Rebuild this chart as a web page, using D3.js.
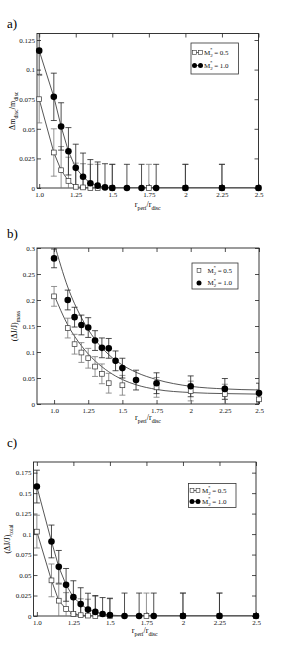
<!DOCTYPE html>
<html>
<head>
<meta charset="utf-8">
<script src="https://cdn.jsdelivr.net/npm/d3@7"></script>
<style>
  body { margin: 0; background: #fff; }
  svg { display: block; }
</style>
</head>
<body>
<div id="chart"></div>
<script>
var xTicks = [1.0, 1.25, 1.5, 1.75, 2, 2.25, 2.5];
var xTickLabels = ["1.0", "1.25", "1.5", "1.75", "2", "2.25", "2.5"];
var legendLabels = ["0.5", "1.0"];

// a) disc mass loss
var aYTicks = [0, 0.025, 0.05, 0.075, 0.1, 0.125];
var aYTickLabels = ["0", "0.025", "0.05", "0.075", "0.1", "0.125"];
var aXOpen = [1.0, 1.1, 1.15, 1.2, 1.25, 1.3, 1.35, 1.4, 1.5, 1.75, 2, 2.25, 2.5];
var aYOpen = [0.075, 0.03, 0.015, 0.006, 0.001, 0.0005, 0, 0, 0, 0, 0, 0, 0];
var aErrOpen = [0.02, 0.02, 0.02, 0.02, 0.02, 0.02, 0.02, 0.02, 0.02, 0.02, 0.02, 0.02, 0];
var aXFilled = [1.0, 1.1, 1.15, 1.2, 1.25, 1.3, 1.35, 1.4, 1.45, 1.5, 1.6, 1.7, 1.8, 2, 2.25, 2.5];
var aYFilled = [0.116, 0.077, 0.052, 0.031, 0.017, 0.0095, 0.004, 0.002, 0.0005, 0, 0, 0, 0, 0, 0, 0];
var aErrFilled = [0.02, 0.02, 0.02, 0.02, 0.02, 0.02, 0.02, 0.02, 0.02, 0.02, 0.02, 0.02, 0.02, 0.02, 0.02, 0];

// b) angular momentum loss with fitted curves
var bYTicks = [0, 0.05, 0.1, 0.15, 0.2, 0.25, 0.3];
var bYTickLabels = ["0", "0.05", "0.1", "0.15", "0.2", "0.25", "0.3"];
var bXOpen = [1.0, 1.1, 1.15, 1.2, 1.25, 1.3, 1.35, 1.4, 1.5, 1.75, 2, 2.25, 2.5];
var bYOpen = [0.207, 0.146, 0.115, 0.099, 0.088, 0.072, 0.058, 0.04, 0.036, 0.032, 0.025, 0.019, 0.009];
var bErrOpen = [0.019, 0.019, 0.019, 0.019, 0.019, 0.019, 0.019, 0.019, 0.019, 0.019, 0.019, 0.019, 0.019];
var bXFilled = [1.0, 1.1, 1.15, 1.2, 1.25, 1.3, 1.35, 1.4, 1.45, 1.5, 1.6, 1.75, 2, 2.25, 2.5];
var bYFilled = [0.28, 0.2, 0.167, 0.152, 0.147, 0.122, 0.108, 0.107, 0.083, 0.069, 0.046, 0.04, 0.034, 0.029, 0.021];
var bErrFilled = [0.018, 0.019, 0.019, 0.019, 0.019, 0.019, 0.019, 0.019, 0.019, 0.019, 0.019, 0.02, 0.02, 0.02, 0.019];
var bFitX = [1.0, 1.1, 1.2, 1.3, 1.4, 1.5, 1.6, 1.75, 2, 2.25, 2.5];
var bFitFilled = [0.31, 0.225, 0.166, 0.124, 0.095, 0.075, 0.061, 0.047, 0.034, 0.029, 0.027];
var bFitOpen = [0.21, 0.152, 0.112, 0.083, 0.062, 0.047, 0.037, 0.028, 0.022, 0.02, 0.019];

// c) total angular momentum loss
var cYTicks = [0, 0.025, 0.05, 0.075, 0.1, 0.125, 0.15, 0.175];
var cYTickLabels = ["0", "0.025", "0.05", "0.075", "0.1", "0.125", "0.15", "0.175"];
var cXOpen = [1.0, 1.1, 1.15, 1.2, 1.25, 1.3, 1.35, 1.4, 1.5, 1.75, 2, 2.25, 2.5];
var cYOpen = [0.103, 0.0435, 0.0187, 0.0085, 0.0025, 0.001, 0.0005, 0, 0, 0, 0, 0, 0];
var cErrOpen = [0.02, 0.02, 0.02, 0.02, 0.02, 0.02, 0.02, 0.024, 0.022, 0.028, 0.028, 0.028, 0];
var cXFilled = [1.0, 1.1, 1.15, 1.2, 1.25, 1.3, 1.35, 1.4, 1.45, 1.5, 1.6, 1.7, 1.8, 2, 2.25, 2.5];
var cYFilled = [0.158, 0.091, 0.06, 0.038, 0.023, 0.0145, 0.0078, 0.005, 0.0025, 0.0012, 0, 0, 0, 0, 0, 0];
var cErrFilled = [0.02, 0.02, 0.02, 0.02, 0.02, 0.02, 0.02, 0.02, 0.02, 0.02, 0.028, 0.028, 0.028, 0.028, 0.028, 0];

var font = "'Liberation Serif', 'DejaVu Serif', serif";
var lineColor = "#444";

var svg = d3.select("#chart").append("svg")
  .attr("width", 292)
  .attr("height", 650);

function zip(xs, ys, es) {
  return xs.map(function(d, i) { return { x: d, y: ys[i], e: es ? es[i] : 0 }; });
}

function subText(sel, parts) {
  // parts: [text, "sub" or null]
  var prev = null;
  parts.forEach(function(p) {
    var t = sel.append("tspan").text(p[0]);
    var shift = 0;
    if (p[1] == "sub") { t.attr("font-size", "0.72em"); shift = 2.5; }
    if (prev == "sub" && p[1] != "sub") shift = -2.5;
    if (shift) t.attr("dy", shift);
    prev = p[1];
  });
}

function legendLabel(sel, value) {
  sel.append("tspan").text("M");
  sel.append("tspan").attr("font-size", 5).attr("dy", 2).text("2");
  sel.append("tspan").attr("font-size", 5).attr("dx", -2.8).attr("dy", -5.5).text("*");
  sel.append("tspan").attr("dy", 3.5).text(" = " + value);
}

function drawPanel(p) {
  var g = svg.append("g");
  var x = d3.scaleLinear().domain(p.xDomain).range([p.left, p.right]);
  var y = d3.scaleLinear().domain(p.yDomain).range([p.bottom, p.top]);

  var clipId = "clip-" + p.name;
  svg.append("clipPath").attr("id", clipId)
    .append("rect")
    .attr("x", p.left).attr("y", p.top)
    .attr("width", p.right - p.left).attr("height", p.bottom - p.top);

  // axes, ticks pointing inward
  var bottom = d3.axisBottom(x).tickValues(xTicks)
    .tickFormat(function(d, i) { return xTickLabels[i]; })
    .tickSizeInner(-4).tickSizeOuter(0).tickPadding(4);
  var top = d3.axisTop(x).tickValues(xTicks).tickFormat("")
    .tickSizeInner(-4).tickSizeOuter(0);
  var left = d3.axisLeft(y).tickValues(p.yTicks)
    .tickFormat(function(d, i) { return p.yTickLabels[i]; })
    .tickSizeInner(-4).tickSizeOuter(0).tickPadding(2);
  var right = d3.axisRight(y).tickValues(p.yTicks).tickFormat("")
    .tickSizeInner(-4).tickSizeOuter(0);

  g.append("g").attr("transform", "translate(0," + p.bottom + ")").call(bottom);
  g.append("g").attr("transform", "translate(0," + p.top + ")").call(top);
  g.append("g").attr("transform", "translate(" + p.left + ",0)").call(left);
  g.append("g").attr("transform", "translate(" + p.right + ",0)").call(right);
  g.selectAll(".domain").remove();
  g.selectAll(".tick line").attr("stroke", "#222").attr("stroke-width", 0.8);
  g.selectAll(".tick text").attr("font-family", font).attr("font-size", 7).attr("fill", "#111");

  g.append("rect")
    .attr("x", p.left).attr("y", p.top)
    .attr("width", p.right - p.left).attr("height", p.bottom - p.top)
    .attr("fill", "none").attr("stroke", "#222").attr("stroke-width", 0.9);

  var plot = g.append("g").attr("clip-path", "url(#" + clipId + ")");

  // fitted curves
  if (p.fit) {
    var curve = d3.line()
      .x(function(d) { return x(d.x); })
      .y(function(d) { return y(d.y); })
      .curve(d3.curveMonotoneX);
    p.fit.forEach(function(f) {
      plot.append("path").datum(f)
        .attr("d", curve)
        .attr("fill", "none").attr("stroke", lineColor).attr("stroke-width", 0.9);
    });
  }

  // connecting lines
  var line = d3.line()
    .x(function(d) { return x(d.x); })
    .y(function(d) { return y(d.y); });
  if (p.connect) {
    [p.open, p.filled].forEach(function(s) {
      plot.append("path").datum(s)
        .attr("d", line)
        .attr("fill", "none").attr("stroke", lineColor).attr("stroke-width", 0.9);
    });
  }

  // error bars
  function errorBars(data, color) {
    var eb = plot.append("g").selectAll("g")
      .data(data.filter(function(d) { return d.e > 0; }))
      .enter().append("g")
      .attr("stroke", color).attr("stroke-width", 0.8);
    eb.append("line")
      .attr("x1", function(d) { return x(d.x); })
      .attr("x2", function(d) { return x(d.x); })
      .attr("y1", function(d) { return y(d.y - d.e); })
      .attr("y2", function(d) { return y(d.y + d.e); });
    eb.append("line")
      .attr("x1", function(d) { return x(d.x) - 3; })
      .attr("x2", function(d) { return x(d.x) + 3; })
      .attr("y1", function(d) { return y(d.y + d.e); })
      .attr("y2", function(d) { return y(d.y + d.e); });
    eb.append("line")
      .attr("x1", function(d) { return x(d.x) - 3; })
      .attr("x2", function(d) { return x(d.x) + 3; })
      .attr("y1", function(d) { return y(d.y - d.e); })
      .attr("y2", function(d) { return y(d.y - d.e); });
  }
  errorBars(p.open, "#777");
  errorBars(p.filled, "#222");

  // markers
  g.append("g").selectAll("rect")
    .data(p.open)
    .enter().append("rect")
    .attr("x", function(d) { return x(d.x) - 2.4; })
    .attr("y", function(d) { return y(d.y) - 2.4; })
    .attr("width", 4.8).attr("height", 4.8)
    .attr("fill", "#fff").attr("stroke", "#333").attr("stroke-width", 0.7);
  g.append("g").selectAll("circle")
    .data(p.filled)
    .enter().append("circle")
    .attr("cx", function(d) { return x(d.x); })
    .attr("cy", function(d) { return y(d.y); })
    .attr("r", 3.3)
    .attr("fill", "#000");

  // legend
  var L = p.legend;
  var lg = g.append("g");
  lg.append("rect")
    .attr("x", L.x).attr("y", L.y).attr("width", L.w).attr("height", L.h)
    .attr("fill", "#fff").attr("stroke", "#333").attr("stroke-width", 0.8);
  legendLabels.forEach(function(lab, i) {
    var ry = L.rows[i];
    if (p.connect) {
      lg.append("line")
        .attr("x1", L.sx).attr("x2", L.sx + 6).attr("y1", ry).attr("y2", ry)
        .attr("stroke", lineColor).attr("stroke-width", 0.8);
    }
    var xs = p.connect ? [L.sx, L.sx + 6] : [L.sx + 3];
    xs.forEach(function(mx) {
      if (i == 0) {
        lg.append("rect")
          .attr("x", mx - 1.9).attr("y", ry - 1.9).attr("width", 3.8).attr("height", 3.8)
          .attr("fill", "#fff").attr("stroke", "#333").attr("stroke-width", 0.6);
      } else {
        lg.append("circle").attr("cx", mx).attr("cy", ry).attr("r", 2.5).attr("fill", "#000");
      }
    });
    lg.append("text")
      .attr("x", L.tx).attr("y", ry + 2.3)
      .attr("font-family", font).attr("font-size", 7).attr("fill", "#111")
      .call(legendLabel, lab);
  });

  // panel letter
  svg.append("text")
    .attr("x", 7).attr("y", p.letterY)
    .attr("font-family", font).attr("font-size", 13)
    .text(p.name + ")");

  // axis titles
  svg.append("text")
    .attr("x", (p.left + p.right) / 2).attr("y", p.xTitleY)
    .attr("text-anchor", "middle")
    .attr("font-family", font).attr("font-size", 8)
    .call(subText, [["r", null], ["peri", "sub"], ["/r", null], ["disc", "sub"]]);
  svg.append("text")
    .attr("transform", "translate(" + p.yTitleX + "," + ((p.top + p.bottom) / 2) + ") rotate(-90)")
    .attr("text-anchor", "middle")
    .attr("font-family", font).attr("font-size", 8)
    .call(subText, p.yTitle);
}

drawPanel({
  name: "a",
  left: 37, right: 258.5, top: 33.5, bottom: 188,
  xDomain: [0.985, 2.5], yDomain: [0, 0.1305],
  yTicks: aYTicks, yTickLabels: aYTickLabels,
  open: zip(aXOpen, aYOpen, aErrOpen),
  filled: zip(aXFilled, aYFilled, aErrFilled),
  connect: true,
  legend: { x: 191, y: 43, w: 47.5, h: 31, rows: [52.5, 65.5], sx: 194.5, tx: 204 },
  letterY: 28, xTitleY: 207, yTitleX: 15,
  yTitle: [["\u0394m", null], ["disc", "sub"], ["/m", null], ["disc", "sub"]]
});

drawPanel({
  name: "b",
  left: 37, right: 259, top: 248, bottom: 404,
  xDomain: [0.875, 2.5], yDomain: [0, 0.3],
  yTicks: bYTicks, yTickLabels: bYTickLabels,
  open: zip(bXOpen, bYOpen, bErrOpen),
  filled: zip(bXFilled, bYFilled, bErrFilled),
  fit: [zip(bFitX, bFitFilled), zip(bFitX, bFitOpen)],
  connect: false,
  legend: { x: 192, y: 263, w: 46, h: 26, rows: [270.5, 283], sx: 196, tx: 207.5 },
  letterY: 238, xTitleY: 420, yTitleX: 17,
  yTitle: [["(\u0394J/J)", null], ["mass", "sub"]]
});

drawPanel({
  name: "c",
  left: 33.5, right: 256, top: 462, bottom: 616,
  xDomain: [0.977, 2.5], yDomain: [0, 0.188],
  yTicks: cYTicks, yTickLabels: cYTickLabels,
  open: zip(cXOpen, cYOpen, cErrOpen),
  filled: zip(cXFilled, cYFilled, cErrFilled),
  connect: true,
  legend: { x: 188.5, y: 483.5, w: 47.5, h: 24, rows: [490.5, 501.5], sx: 192, tx: 202 },
  letterY: 447, xTitleY: 633, yTitleX: 10,
  yTitle: [["(\u0394J/J)", null], ["total", "sub"]]
});
</script>
</body>
</html>
